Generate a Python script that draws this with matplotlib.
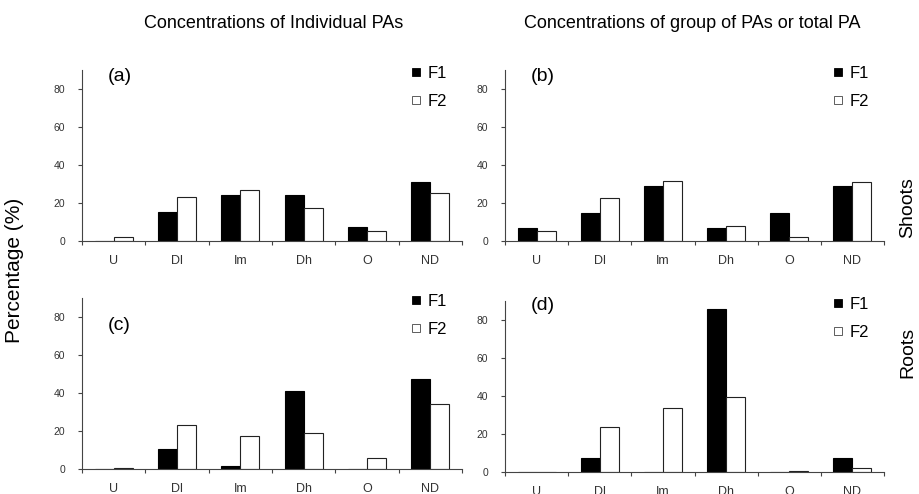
import matplotlib.pyplot as plt
import numpy as np
from matplotlib.patches import Patch

plt.rcParams['font.family'] = ['Liberation Sans', 'DejaVu Sans']

categories = ["U", "Dl", "Im", "Dh", "O", "ND"]

# (a) shoots, individual PAs
a_f1 = [0, 15, 24, 24, 7.5, 31]
a_f2 = [2.3, 23, 27, 17.5, 5, 25.5]
# (b) shoots, group of PAs
b_f1 = [7, 14.5, 29, 7, 14.5, 29]
b_f2 = [5.5, 22.5, 31.5, 8, 2, 31]
# (c) roots, individual PAs
c_f1 = [0, 10.3, 1.5, 41, 0, 47.3]
c_f2 = [0.5, 23, 17.6, 19, 6, 34.2]
# (d) roots, group of PAs
d_f1 = [0, 7.2, 0, 86, 0, 7.2]
d_f2 = [0, 23.6, 33.8, 39.6, 0.5, 2.2]

panels = [
    ("(a)", a_f1, a_f2, [82 / 919, 1 - 241 / 494, 380 / 919, 171 / 494], 0.96),
    ("(b)", b_f1, b_f2, [505 / 919, 1 - 241 / 494, 379 / 919, 171 / 494], 0.96),
    ("(c)", c_f1, c_f2, [82 / 919, 1 - 469 / 494, 380 / 919, 171 / 494], 0.84),
    ("(d)", d_f1, d_f2, [505 / 919, 1 - 472 / 494, 379 / 919, 171 / 494], 0.975),
]

fig = plt.figure(figsize=(9.19, 4.94), dpi=100)

x = np.arange(len(categories))
w = 0.3
tick_col = "#333333"

for label, f1, f2, rect, ly in panels:
    ax = fig.add_axes(rect)
    ax.bar(x - w / 2, f1, w, color="black", edgecolor="black", linewidth=0.8)
    ax.bar(x + w / 2, f2, w, color="white", edgecolor="#222222", linewidth=0.8)
    ax.set_xlim(-0.5, len(categories) - 0.5)
    ax.set_ylim(0, 90)
    ax.set_yticks([0, 20, 40, 60, 80])
    ax.set_xticks(np.arange(len(categories) + 1) - 0.5)
    ax.set_xticklabels([])
    ax.set_xticks(x, minor=True)
    ax.set_xticklabels(categories, minor=True)
    ax.tick_params(axis="x", which="major", length=3, direction="out", color="#444444")
    ax.tick_params(axis="x", which="minor", length=0, pad=10, labelsize=9, labelcolor=tick_col)
    ax.tick_params(axis="y", length=3, pad=9, labelsize=7.5, labelcolor=tick_col, color="#444444")
    for s in ["top", "right"]:
        ax.spines[s].set_visible(False)
    for s in ["left", "bottom"]:
        ax.spines[s].set_color("#444444")
        ax.spines[s].set_linewidth(0.8)
    ax.text(0.068, ly, label, transform=ax.transAxes, fontsize=14, va="center", ha="left")
    handles = [Patch(facecolor="black", edgecolor="black", linewidth=0.6),
               Patch(facecolor="white", edgecolor="#444444", linewidth=0.6)]
    ax.legend(handles, ["F1", "F2"], loc="upper right", bbox_to_anchor=(0.978, 1.06),
              frameon=False, fontsize=12, handlelength=0.46, handleheight=0.36,
              handletextpad=0.45, labelspacing=0.74, borderaxespad=0)

fig.text(274 / 919, 1 - 24 / 494, "Concentrations of Individual PAs", fontsize=13,
         ha="center", va="center")
fig.text(692 / 919, 1 - 24 / 494, "Concentrations of group of PAs or total PA", fontsize=13,
         ha="center", va="center")
fig.text(15 / 919, 1 - 270 / 494, "Percentage (%)", fontsize=15, rotation=90,
         ha="center", va="center")
fig.text(908 / 919, 1 - 208 / 494, "Shoots", fontsize=14, rotation=90,
         ha="center", va="center")
fig.text(908 / 919, 1 - 352 / 494, "Roots", fontsize=14, rotation=90,
         ha="center", va="center")

fig.savefig("out.png", dpi=100)
